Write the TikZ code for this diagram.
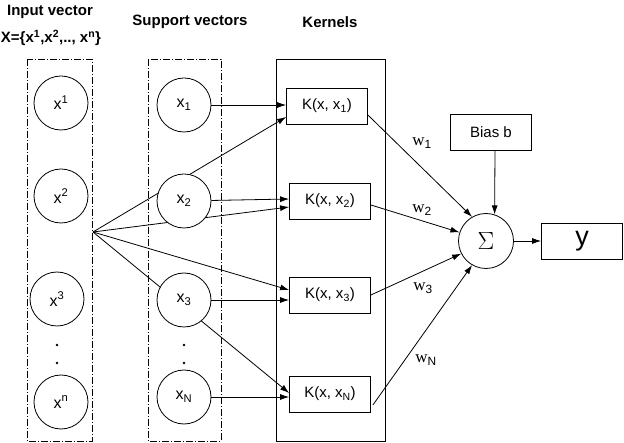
\documentclass[tikz,border=0pt]{standalone}
\usepackage{fontspec}
\setmainfont{Liberation Sans}
\newfontfamily\wfont{Liberation Serif}
\usetikzlibrary{arrows.meta}

\begin{document}
\begin{tikzpicture}[x=1pt, y=-1pt, line width=0.8pt, font=\fontsize{15}{17}\selectfont,
  arr/.style = {-{Latex[length=9pt,width=6pt]}},
  unit/.style = {draw, circle, minimum size=54pt, inner sep=0pt, fill=white, font=\fontsize{16}{18}\selectfont},
  kern/.style = {draw, minimum width=81pt, minimum height=36pt, inner sep=0pt, fill=white},
  box/.style = {draw, minimum width=81pt, minimum height=36pt, inner sep=0pt},
  group/.style = {draw, dash pattern=on 7pt off 2pt on 1pt off 2pt},
  dot/.style = {circle, fill, inner sep=0pt, minimum size=2.6pt},
  title/.style = {font=\fontsize{15}{17}\selectfont\bfseries},
  wlab/.style = {font=\fontsize{17}{19}\selectfont}]
\useasboundingbox (0,0) rectangle (624,443);

% headings
\node[title] (t1) at (50,12) {Input vector};
\node[title] (t2) at (51,38) {X=\{x\textsuperscript{1},x\textsuperscript{2},.., x\textsuperscript{n}\}};
\node[title] (t3) at (190,22) {Support vectors};
\node[title] (t4) at (330,22) {Kernels};

% column frames
\draw[group] (27,59) rectangle (92,441);
\draw[group] (148,59) rectangle (221,441);
\draw (276,59) rectangle (385,441);

% kernels
\node[kern] (k1) at (327,106) {K(x, x\textsubscript{1})};
\node[kern] (k2) at (330,201) {K(x, x\textsubscript{2})};
\node[kern] (k3) at (330,295) {K(x, x\textsubscript{3})};
\node[kern] (kN) at (330,394) {K(x, x\textsubscript{N})};

% lines from the input vector
\coordinate (hub) at (93,232);
\draw[arr] (hub) -- ([yshift=-11pt]k1.west);
\draw[arr] (hub) -- ([yshift=-6pt]k2.west);
\draw[arr] (hub) -- ([yshift=5pt]k3.west);
\draw[arr] (hub) -- ([yshift=1pt]kN.west);

% input vector
\node[unit] (i1) at (61,103) {x\textsuperscript{1}};
\node[unit] (i2) at (61,196) {x\textsuperscript{2}};
\node[unit] (i3) at (57,299) {x\textsuperscript{3}};
\node[dot] (id1) at (57,345) {};
\node[dot] (id2) at (57,363) {};
\node[unit] (in) at (61,402) {x\textsuperscript{n}};

% support vectors
\node[unit] (s1) at (184,105) {x\textsubscript{1}};
\node[unit] (s2) at (184,201) {x\textsubscript{2}};
\node[unit] (s3) at (184,300) {x\textsubscript{3}};
\node[dot] (sd1) at (184,345) {};
\node[dot] (sd2) at (184,363) {};
\node[unit] (sN) at (184,397) {x\textsubscript{N}};

\draw[arr] (s1) -- (s1 -| k1.west);
\draw[arr] (s2) -- ([yshift=2pt]k2.west);
\draw[arr] (s3) -- (s3 -| k3.west);
\draw[arr] (sN) -- (sN -| kN.west);

% output part
\node[draw, circle, minimum size=55pt, inner sep=0pt] (sum) at (486,241) {\fontsize{25}{27}\selectfont$\Sigma$};
\node[box] (bias) at (491,132) {Bias b};
\node[box] (out) at (582,241) {\fontsize{27}{29}\selectfont y};

\draw[arr] ([yshift=-9pt]k1.east) -- (sum.120);
\draw[arr] ([yshift=-4pt]k2.east) -- (sum.162);
\draw[arr] (k3.east) -- (sum.207);
\draw[arr] ([xshift=2pt,yshift=-11pt]kN.east) -- (sum.240);
\draw[arr] ([xshift=4pt]bias.south) -- (sum.72);
\draw[arr] (sum) -- (out);

\node[wlab] (w1) at (422,143) {{\wfont w}\textsubscript{1}};
\node[wlab] (w2) at (422,210) {{\wfont w}\textsubscript{2}};
\node[wlab] (w3) at (423,288) {{\wfont w}\textsubscript{3}};
\node[wlab] (wN) at (426,360) {{\wfont w}\textsubscript{N}};
\end{tikzpicture}
\end{document}
